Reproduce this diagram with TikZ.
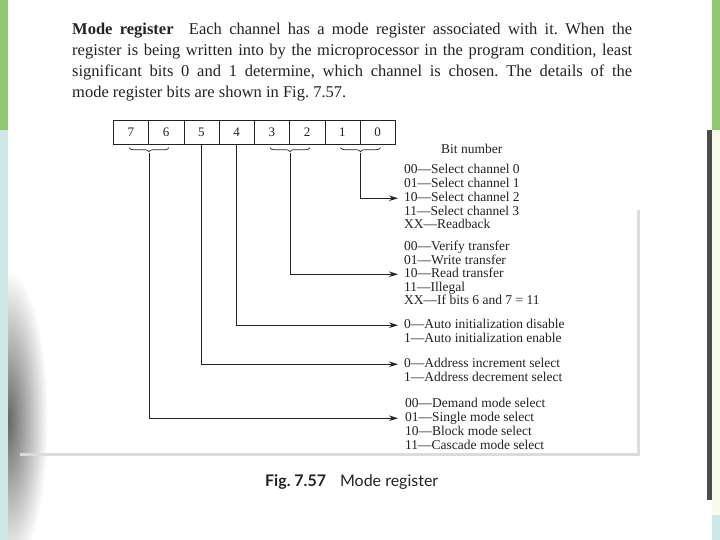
\documentclass[tikz,border=0pt]{standalone}
\usepackage{fontspec}
\setmainfont{Liberation Serif}
\newfontfamily\capfont{Lato}
\usetikzlibrary{arrows.meta,decorations.pathreplacing}
\definecolor{framegreen}{RGB}{142,200,112}
\definecolor{frameblue}{RGB}{206,232,232}
\definecolor{framecream}{RGB}{248,250,236}
\definecolor{ink}{RGB}{35,35,35}
\frenchspacing
\begin{document}
\begin{tikzpicture}[x=1pt,y=-1pt,
  cell/.style={draw=ink, line width=0.7pt, minimum width=35.25pt, minimum height=24pt,
    inner sep=0pt, anchor=north west, text=ink, font=\fontsize{13}{13}\selectfont},
  lbl/.style={anchor=base west, inner sep=0pt, text=ink, text height=9.5pt, text depth=3pt,
    font=\fontsize{13.5}{13.7}\selectfont},
  conn/.style={draw=ink, line width=0.8pt, -{Stealth[length=9pt,width=5.5pt]}, shorten >=6pt},
  brc/.style={draw=ink, decorate, decoration={brace, mirror, amplitude=4pt}, line width=0.7pt},
  para/.style={anchor=base west, inner sep=0pt, text=ink, font=\fontsize{16.5}{21}\selectfont},
  pageshade/.style={gray!28, line width=3pt}]
\useasboundingbox (0,0) rectangle (720,540);
\fill[white] (0,0) rectangle (720,540);
% soft shadow at the left edge of the photo
\shade[inner color=black!60, outer color=white] (8,420) ellipse [x radius=40pt, y radius=150pt];
% photo frame
\fill[framegreen] (0,0) rectangle (8,130);
\fill[frameblue] (0,130) rectangle (8,540);
\fill[framegreen] (712,0) rectangle (720,130);
\fill[framecream] (712,130) rectangle (720,515);
\fill[frameblue] (712,515) rectangle (720,540);
\fill[black!70] (707,130) rectangle (712,500);
% page shading of figure box
\draw[pageshade] (20,454) -- (638,454) -- (638,210);
% paragraph
\node[para] (p1) at (72,35) {\makebox[560pt][s]{\textbf{Mode register}\hspace{8pt} Each channel has a mode register associated with it. When the}};
\node[para] (p2) at (72,56) {\makebox[560pt][s]{register is being written into by the microprocessor in the program condition, least}};
\node[para] (p3) at (72,77) {\makebox[560pt][s]{significant bits 0 and 1 determine, which channel is chosen. The details of the}};
\node[para] (p4) at (72,98) {mode register bits are shown in Fig. 7.57.};
% register
\foreach \i/\b in {0/7,1/6,2/5,3/4,4/3,5/2,6/1,7/0}
  \node[cell] (c\b) at ({113+35.25*\i},120) {\b};
\draw[brc] ([xshift=-20pt,yshift=-3pt]c7.south east) -- ([xshift=20pt,yshift=-3pt]c7.south east);
\draw[brc] ([xshift=-20pt,yshift=-3pt]c3.south east) -- ([xshift=20pt,yshift=-3pt]c3.south east);
\draw[brc] ([xshift=-20pt,yshift=-3pt]c1.south east) -- ([xshift=20pt,yshift=-3pt]c1.south east);
\coordinate (b76) at ([yshift=-8pt]c7.south east);
\coordinate (b32) at ([yshift=-8pt]c3.south east);
\coordinate (b10) at ([yshift=-8pt]c1.south east);
% labels
\node[lbl] (bn) at (441,154) {Bit number};
\node[lbl] (g1a) at (404,174) {00—Select channel 0};
\node[lbl] (g1b) at (404,188) {01—Select channel 1};
\node[lbl] (g1c) at (404,201.5) {10—Select channel 2};
\node[lbl] (g1d) at (404,215) {11—Select channel 3};
\node[lbl] (g1e) at (404,229) {XX—Readback};
\node[lbl] (g2a) at (404,250.5) {00—Verify transfer};
\node[lbl] (g2b) at (404,264) {01—Write transfer};
\node[lbl] (g2c) at (404,277.5) {10—Read transfer};
\node[lbl] (g2d) at (404,291) {11—Illegal};
\node[lbl] (g2e) at (404,304.5) {XX—If bits 6 and 7 = 11};
\node[lbl] (g3a) at (404,328.5) {0—Auto initialization disable};
\node[lbl] (g3b) at (404,342.5) {1—Auto initialization enable};
\node[lbl] (g4a) at (404,367.5) {0—Address increment select};
\node[lbl] (g4b) at (404,381.5) {1—Address decrement select};
\node[lbl] (g5a) at (405,407.5) {00—Demand mode select};
\node[lbl] (g5b) at (405,421.5) {01—Single mode select};
\node[lbl] (g5c) at (405,435.5) {10—Block mode select};
\node[lbl] (g5d) at (405,449.5) {11—Cascade mode select};
% connectors
\draw[conn] (b10) |- (g1c.west);
\draw[conn] (b32) |- (g2c.west);
\draw[conn] (c4.south) |- (g3a.west);
\draw[conn] (c5.south) |- (g4a.west);
\draw[conn] (b76) |- ([xshift=-1pt]g5b.west);
% caption
\node[anchor=base west, inner sep=0pt, text=ink, font=\capfont\fontsize{16}{16}\selectfont] (cap) at (265,486)
  {\textbf{Fig. 7.57}\hspace{14pt}Mode register};
\end{tikzpicture}
\end{document}
